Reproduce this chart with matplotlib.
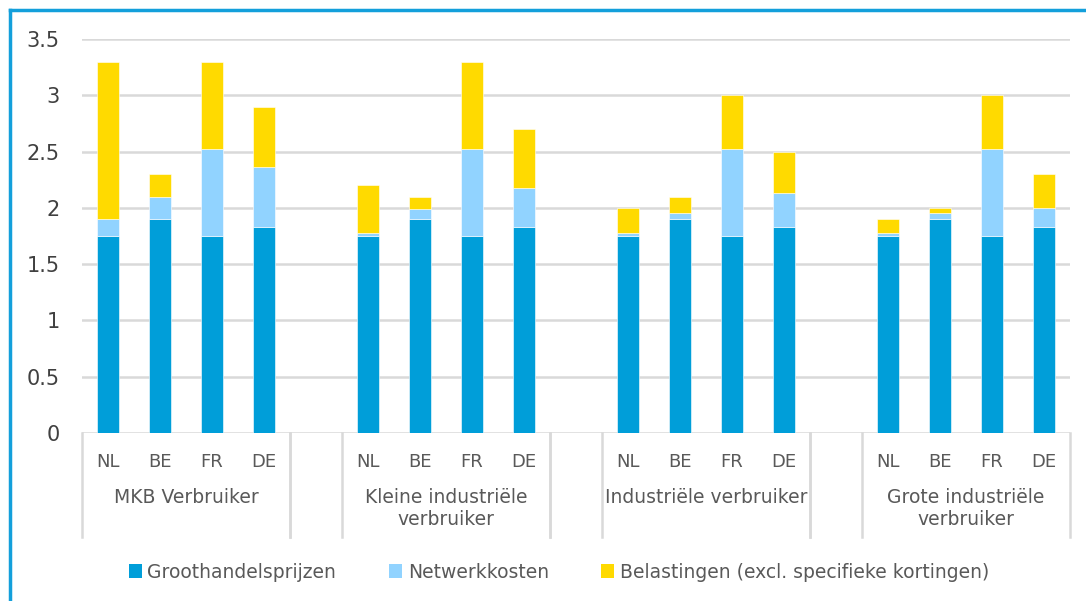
import matplotlib
matplotlib.use("Agg")
import matplotlib.pyplot as plt
import matplotlib.transforms as mtransforms
from matplotlib.lines import Line2D
from matplotlib.patches import Patch
from matplotlib.ticker import FormatStrFormatter

# data
countries = ['NL', 'BE', 'FR', 'DE']
groups = ['MKB Verbruiker', 'Kleine industriële\nverbruiker',
          'Industriële verbruiker', 'Grote industriële\nverbruiker']
series_names = ['Groothandelsprijzen', 'Netwerkkosten',
                'Belastingen (excl. specifieke kortingen)']

groothandel = [1.75, 1.90, 1.75, 1.83,
               1.75, 1.90, 1.75, 1.83,
               1.75, 1.90, 1.75, 1.83,
               1.75, 1.90, 1.75, 1.83]
netwerk = [0.15, 0.20, 0.77, 0.53,
           0.03, 0.09, 0.77, 0.35,
           0.03, 0.05, 0.77, 0.30,
           0.03, 0.05, 0.77, 0.17]
belasting = [1.40, 0.20, 0.78, 0.54,
             0.42, 0.11, 0.78, 0.52,
             0.22, 0.15, 0.48, 0.37,
             0.12, 0.05, 0.48, 0.30]

colors = ['#009ED9', '#91D3FF', '#FFDA00']
text_col = '#595959'
grid_col = '#D9D9D9'

W, H = 1086, 601
fig = plt.figure(figsize=(W / 100, H / 100), dpi=100)
ax = fig.add_axes([82 / W, 1 - 433 / H, (1070 - 82) / W, (433 - 39) / H])

# one empty slot between the groups
n_c = len(countries)
xpos = [g * (n_c + 1) + i for g in range(len(groups)) for i in range(n_c)]

bottom2 = [a + b for a, b in zip(groothandel, netwerk)]
ax.bar(xpos, groothandel, width=0.41, color=colors[0], edgecolor='white', linewidth=0.4, zorder=3)
ax.bar(xpos, netwerk, width=0.41, bottom=groothandel, color=colors[1], edgecolor='white', linewidth=0.4, zorder=3)
ax.bar(xpos, belasting, width=0.41, bottom=bottom2, color=colors[2], edgecolor='white', linewidth=0.4, zorder=3)

n_slots = len(groups) * (n_c + 1) - 1
ax.set_xlim(-0.5, n_slots - 0.5)
ax.set_ylim(0, 3.5)
ax.set_yticks([0, 0.5, 1, 1.5, 2, 2.5, 3, 3.5])
ax.yaxis.set_major_formatter(FormatStrFormatter('%g'))
ax.tick_params(axis='y', length=0, pad=16, labelsize=15, labelcolor='#404040')
ax.set_xticks([])
ax.grid(axis='y', color=grid_col, linewidth=1.8, zorder=0)
for s in ax.spines.values():
    s.set_visible(False)

# category axis drawn by hand
trans = mtransforms.blended_transform_factory(ax.transData, fig.transFigure)
y_top = 1 - 433 / H
y_bot = 1 - 537 / H
for x, c in zip(xpos, countries * len(groups)):
    ax.text(x, 1 - 462 / H, c, transform=trans, ha='center', va='center',
            fontsize=13, color=text_col)
for g, name in enumerate(groups):
    start = g * (n_c + 1) - 0.5
    end = start + n_c
    lines = [start, end] if g == 0 else [start - 1, start, end]
    for lx in lines:
        ax.add_line(Line2D([lx, lx], [y_top, y_bot], transform=trans,
                           color=grid_col, linewidth=1.8, clip_on=False))
    ax.text((start + end) / 2, 1 - 488 / H, name, transform=trans, ha='center',
            va='top', fontsize=13.5, color=text_col, linespacing=1.2)

handles = [Patch(facecolor=c, edgecolor='none') for c in colors]
fig.legend(handles, series_names, loc='center', bbox_to_anchor=(559 / W, 1 - 572 / H),
           ncol=3, frameon=False, handlelength=0.7, handleheight=0.75,
           handletextpad=0.3, columnspacing=2.8, fontsize=13.5, labelcolor=text_col)

# blue frame on top and left
fc = '#139FDB'
fig.add_artist(Line2D([10 / W, 10 / W], [0, 1 - 10 / H], color=fc, linewidth=2.5))
fig.add_artist(Line2D([10 / W, 1], [1 - 10 / H, 1 - 10 / H], color=fc, linewidth=2.5))

fig.savefig('out.png', dpi=100)
